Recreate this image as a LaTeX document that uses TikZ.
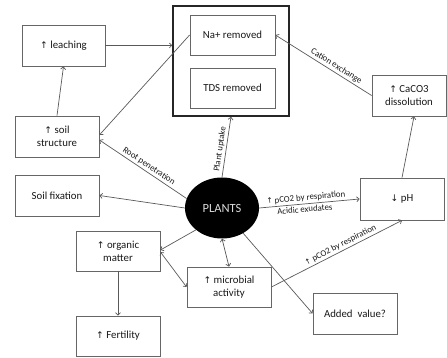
\documentclass[tikz,border=0pt]{standalone}
\usepackage{fontspec}
\setmainfont{Carlito}
\newfontfamily\symf{DejaVu Sans}
\usetikzlibrary{arrows.meta,shapes.geometric}
\newcommand{\up}{{\symf\scalebox{0.85}{↑}}}
\newcommand{\down}{{\symf\scalebox{0.85}{↓}}}
\begin{document}
\begin{tikzpicture}[x=1pt,y=1pt,
  box/.style={draw=black!60, line width=0.8pt, fill=white, align=center, text=black!90,
    font=\fontsize{10.8}{13}\selectfont, inner sep=1pt},
  conn/.style={draw=black!65, line width=0.7pt, -{Straight Barb[length=2.5pt,width=5pt]}},
  bconn/.style={draw=black!65, line width=0.7pt, {Straight Barb[length=2.5pt,width=5pt]}-{Straight Barb[length=2.5pt,width=5pt]}},
  lbl/.style={font=\fontsize{8.8}{10}\selectfont, text=black!90, sloped, inner sep=1.8pt}]
\useasboundingbox (0,0) rectangle (447,-358);
% boxes
\node[draw=black!85, line width=1.5pt, minimum width=116, minimum height=110] (big) at (231,-61) {};
\node[box, minimum width=85, minimum height=40] (na) at (232.5,-35) {Na+ removed};
\node[box, minimum width=85, minimum height=40] (tds) at (232.5,-88) {TDS removed};
\node[box, minimum width=83, minimum height=41] (leach) at (63.5,-45.5) {\up{} leaching};
\node[box, minimum width=84, minimum height=41] (soilstr) at (57,-136.5) {\up{} soil\\structure};
\node[box, minimum width=84, minimum height=41] (soilfix) at (57,-195.5) {Soil fixation};
\node[box, minimum width=84, minimum height=40] (organic) at (118,-251) {\up{} organic\\matter};
\node[box, minimum width=84, minimum height=40] (fert) at (118,-336) {\up{} Fertility};
\node[box, minimum width=84, minimum height=40] (micro) at (229,-287) {\up{} microbial\\activity};
\node[box, minimum width=84, minimum height=41] (added) at (355,-313.5) {Added\ \ value?};
\node[box, minimum width=84, minimum height=42] (ph) at (402,-199) {\down{} pH};
\node[box, minimum width=74, minimum height=41] (caco) at (409,-95.5) {\up{} CaCO3\\dissolution};
\node[ellipse, fill=black, minimum width=74, minimum height=61, inner sep=0pt,
  text=black!15, font=\fontsize{12.5}{14}\selectfont] (plants) at (222,-208) {PLANTS};
% connectors
\draw[conn] (leach.east) -- (leach.east -| big.west);
\draw[conn] (soilstr.north) -- (leach.south);
\draw[conn] (na.west) -- ([yshift=1.5pt]soilstr.east);
\draw[conn] (plants.165) -- node[lbl, above, pos=0.47] {Root penetration} ([yshift=-3.5pt]soilstr.east);
\draw[conn] (plants.west) -- (soilfix.east);
\draw[conn] (plants.220) -- ([yshift=1pt]organic.east);
\draw[bconn] ([yshift=-1pt]organic.east) -- (micro.west);
\draw[bconn] (plants.south) -- (micro.north);
\draw[conn] (organic.south) -- (fert.north);
\draw[conn] (plants.north) -- node[lbl, above, pos=0.45] {Plant uptake} (big.south);
\draw[conn] (plants.east) -- node[lbl, above, pos=0.47] {\up{} pCO2 by respiration}
  node[lbl, below, pos=0.45] {Acidic exudates} (ph.west);
\draw[conn] (plants.-50) -- (added.west);
\draw[conn] (micro.east) -- node[lbl, above, pos=0.55] {\up{} pCO2 by respiration} (ph.south);
\draw[conn] (ph.north) -- ([xshift=5pt]caco.south);
\draw[conn] (caco.west) -- node[lbl, above, pos=0.4] {Cation exchange} (na.east);
\end{tikzpicture}
\end{document}
